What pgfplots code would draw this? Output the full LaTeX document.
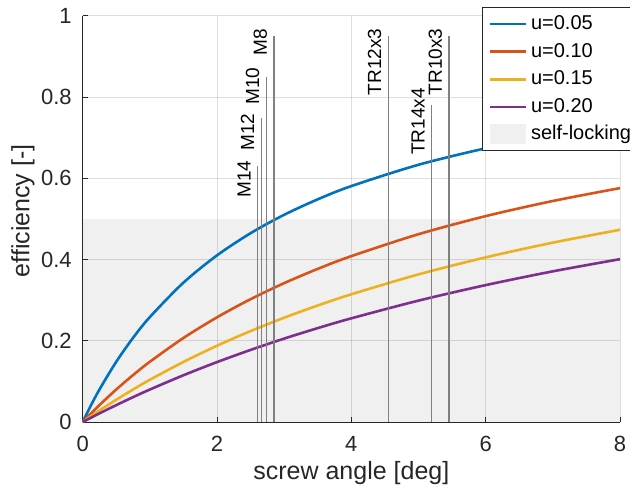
\documentclass[border=0pt]{standalone}
\usepackage{fontspec}
\setmainfont{Liberation Sans}
\usepackage{pgfplots}
\pgfplotsset{compat=1.18}
\definecolor{mblue}{rgb}{0,0.447,0.741}
\definecolor{morange}{rgb}{0.85,0.325,0.098}
\definecolor{myellow}{rgb}{0.929,0.694,0.125}
\definecolor{mpurple}{rgb}{0.494,0.184,0.556}
\definecolor{axgray}{rgb}{0.15,0.15,0.15}
\definecolor{lockgray}{rgb}{0.94,0.94,0.94}
\definecolor{vline}{rgb}{0.5,0.5,0.5}

\begin{document}
\begin{tikzpicture}
\begin{axis}[
    name=ax,
    set layers,
    scale only axis,
    width=268.65pt,
    height=203pt,
    xmin=0, xmax=8,
    ymin=0, ymax=1,
    axis x line*=bottom,
    axis y line*=left,
    axis line style={-, draw=axgray, line width=0.5pt},
    xtick={0,2,4,6,8},
    ytick={0,0.2,0.4,0.6,0.8,1},
    tick align=inside,
    major tick length=2.5pt,
    tick style={draw=axgray, line width=0.5pt},
    xmajorgrids, ymajorgrids,
    grid style={draw=axgray, draw opacity=0.15, line width=0.5pt},
    /pgf/number format/assume math mode=true,
    ticklabel style={font=\fontsize{11}{13}\selectfont, text=axgray},
    x tick label style={inner sep=0pt, yshift=-7pt},
    y tick label style={inner sep=0pt, xshift=-5.3pt},
    xlabel={screw angle [deg]},
    ylabel={efficiency [-]},
    label style={font=\fontsize{12.5}{15}\selectfont, text=axgray},
    xlabel style={at={(axis description cs:0.5,-0.125)}, anchor=center},
    ylabel style={at={(axis description cs:-0.1115,0.52)}, anchor=center},
    legend style={
        at={(axis description cs:0.743,1.022)},
        anchor=north west,
        draw=axgray, line width=0.5pt, fill=white,
        font=\fontsize{10}{12}\selectfont,
        inner sep=3pt,
        row sep=3.3pt,
        nodes={inner sep=0pt, text height=8pt, text depth=2.5pt, text=black},
        /tikz/every odd column/.style={column sep=2pt},
    },
    legend cell align=left,
    legend image code/.code={\draw[#1] (0pt,0pt) -- (18pt,0pt);},
]

% u = 0.05
\addplot[mblue, line width=1.3pt, smooth] coordinates {
    (0,0) (0.1,0.0337) (0.25,0.0802) (0.5,0.1485) (0.75,0.2074)
    (1,0.2585) (1.5,0.3433) (2,0.4105) (2.5,0.4651) (3,0.5104)
    (3.5,0.5485) (4,0.5811) (5,0.6336) (6,0.6741) (7,0.7063) (8,0.7324)
};
% u = 0.10
\addplot[morange, line width=1.3pt, smooth] coordinates {
    (0,0) (0.1,0.0172) (0.25,0.0418) (0.5,0.0802) (0.75,0.1156)
    (1,0.1484) (1.5,0.2070) (2,0.2579) (2.5,0.3026) (3,0.3421)
    (3.5,0.3772) (4,0.4086) (5,0.4626) (6,0.5071) (7,0.5444) (8,0.5761)
};
% u = 0.15
\addplot[myellow, line width=1.3pt, smooth] coordinates {
    (0,0) (0.1,0.0115) (0.25,0.0283) (0.5,0.0549) (0.75,0.0801)
    (1,0.1040) (1.5,0.1480) (2,0.1879) (2.5,0.2240) (3,0.2569)
    (3.5,0.2870) (4,0.3146) (5,0.3636) (6,0.4055) (7,0.4418) (8,0.4735)
};
% u = 0.20
\addplot[mpurple, line width=1.3pt, smooth] coordinates {
    (0,0) (0.1,0.0086) (0.25,0.0213) (0.5,0.0417) (0.75,0.0613)
    (1,0.0800) (1.5,0.1152) (2,0.1476) (2.5,0.1776) (3,0.2055)
    (3.5,0.2313) (4,0.2554) (5,0.2990) (6,0.3372) (7,0.3711) (8,0.4011)
};
% self-locking region
\addplot[fill=lockgray, draw=none, on layer=axis background,
    legend image code/.code={\fill[lockgray] (0pt,-5pt) rectangle (18pt,5pt);}]
    coordinates {(0,0) (8,0) (8,0.5) (0,0.5)} \closedcycle;
\legend{u=0.05, u=0.10, u=0.15, u=0.20, self-locking}

% thread lead angles
\addplot[vline, line width=0.6pt, forget plot] coordinates {(2.6036,0) (2.6036,0.63)};
\addplot[vline, line width=0.6pt, forget plot] coordinates {(2.6578,0) (2.6578,0.75)};
\addplot[vline, line width=0.6pt, forget plot] coordinates {(2.7336,0) (2.7336,0.85)};
\addplot[vline, line width=0.6pt, forget plot] coordinates {(2.8473,0) (2.8473,0.95)};
\addplot[vline, line width=0.6pt, forget plot] coordinates {(4.5498,0) (4.5498,0.95)};
\addplot[vline, line width=0.6pt, forget plot] coordinates {(5.1965,0) (5.1965,0.78)};
\addplot[vline, line width=0.6pt, forget plot] coordinates {(5.4548,0) (5.4548,0.95)};

\begin{scope}[every node/.style={rotate=90, anchor=south east, inner sep=0pt,
        outer ysep=3.5pt, font=\fontsize{9.5}{11}\selectfont}]
\node at (axis cs:2.6036,0.645) {M14};
\node at (axis cs:2.6578,0.761) {M12};
\node at (axis cs:2.7336,0.874) {M10};
\node at (axis cs:2.8473,0.968) {M8};
\node at (axis cs:4.5498,0.970) {TR12x3};
\node at (axis cs:5.1965,0.823) {TR14x4};
\node at (axis cs:5.4548,0.970) {TR10x3};
\end{scope}

\end{axis}
\pgfresetboundingbox
\useasboundingbox ([shift={(-41.35pt,-38pt)}]ax.south west)
    rectangle ([shift={(5pt,8pt)}]ax.north east);
\end{tikzpicture}
\end{document}
